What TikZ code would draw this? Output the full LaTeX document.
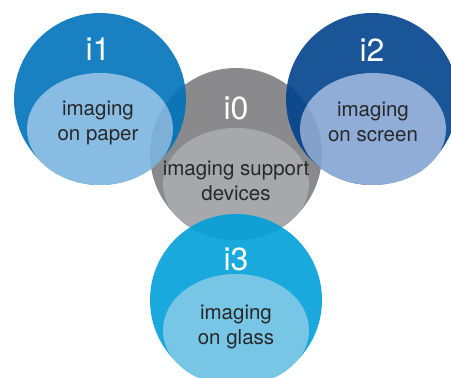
\documentclass[tikz,border=0pt]{standalone}
\usepackage{fontspec}
\setmainfont{TeX Gyre Heros}
\usepackage{xcolor}
\usepackage{tikz}
\usetikzlibrary{shapes.geometric}

\definecolor{paperblue}{RGB}{0,115,186}
\definecolor{paperlight}{RGB}{124,181,223}
\definecolor{screenblue}{RGB}{0,67,140}
\definecolor{screenlight}{RGB}{131,164,210}
\definecolor{supportgray}{RGB}{138,138,140}
\definecolor{supportlight}{RGB}{167,168,171}
\definecolor{glasscyan}{RGB}{0,160,216}
\definecolor{glasslight}{RGB}{105,192,227}
\definecolor{labeltext}{RGB}{40,40,42}

\begin{document}
\begin{tikzpicture}[
  x=1pt, y=-1pt,
  outer/.style = {circle, inner sep=0pt, minimum size=172pt},
  inner/.style = {ellipse, inner sep=0pt, minimum width=146pt,
                  minimum height=112pt},
  tag/.style   = {text=white, font=\fontsize{32}{32}\selectfont},
  desc/.style  = {text=labeltext, align=center,
                  font=\fontsize{20.5}{25}\selectfont},
  see/.style   = {transparency group, opacity=0.9},
]
\useasboundingbox (0,0) rectangle (451,378);
\clip (0,0) rectangle (451,378);

%% support devices (bottom layer)
\node[outer, fill=supportgray]  (c0) at (236,154) {};
\node[inner, fill=supportlight] (e0) at (236,184) {};

%% paper
\begin{scope}[see]
  \node[outer, fill=paperblue]  (c1) at (100,99)  {};
  \node[inner, fill=paperlight] (e1) at (100,129) {};
\end{scope}

%% screen
\begin{scope}[see]
  \node[outer, fill=screenblue]  (c2) at (372,99)  {};
  \node[inner, fill=screenlight] (e2) at (373,129) {};
\end{scope}

%% glass
\begin{scope}[see]
  \node[outer, fill=glasscyan]  (c3) at (236,300) {};
  \node[inner, fill=glasslight] (e3) at (236,330) {};
\end{scope}

%% labels
\node[tag] (t1) at (98,49)   {i1};
\node[tag] (t0) at (236,108) {i0};
\node[tag] (t2) at (372,50)  {i2};
\node[tag] (t3) at (236,259) {i3};

\node[desc] (d1) at (98,123)  {imaging\\on paper};
\node[desc] (d0) at (236,181) {imaging support\\devices};
\node[desc] (d2) at (373,122) {imaging\\on screen};
\node[desc] (d3) at (236,327) {imaging\\on glass};

\end{tikzpicture}
\end{document}
